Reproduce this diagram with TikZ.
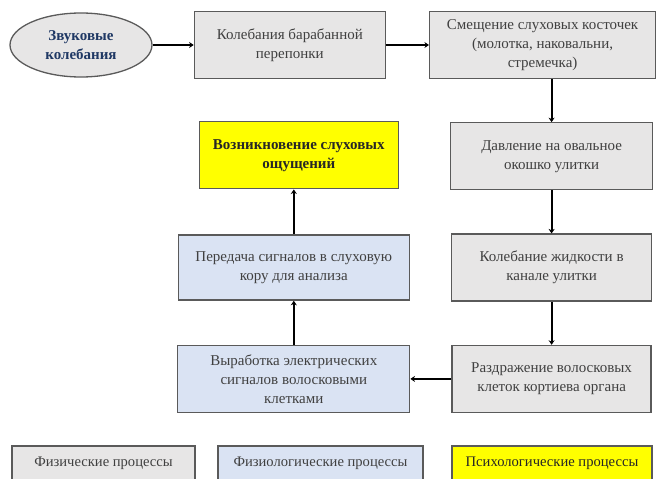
\documentclass[tikz,border=0pt]{standalone}
\usepackage{fontspec}
\setmainfont{Liberation Serif}
\usetikzlibrary{positioning,arrows.meta,shapes.geometric}
\definecolor{physfill}{HTML}{E7E6E6}
\definecolor{biofill}{HTML}{DAE3F3}
\definecolor{psyfill}{HTML}{FFFF00}
\definecolor{rim}{HTML}{5A5A5A}
\definecolor{inktxt}{HTML}{404040}
\definecolor{navy}{HTML}{1F3864}

\begin{document}
\begin{tikzpicture}[
  proc/.style={draw=rim, line width=1.3pt, minimum height=67pt, align=center, inner sep=3pt, font=\fontsize{15}{19}\selectfont},
  phys/.style={proc, fill=physfill, text=inktxt},
  bio/.style={proc, fill=biofill, text=inktxt},
  psy/.style={proc, fill=psyfill, text=black!85, font=\fontsize{15}{19}\selectfont\bfseries},
  legend/.style={draw=rim, line width=1.3pt, minimum height=34pt, font=\fontsize{14.6}{19}\selectfont},
  arr/.style={-{Stealth[length=4.5pt,width=6pt]}, line width=2.2pt}]
\useasboundingbox (0,0) rectangle (656pt,-479pt);
\clip (0,0) rectangle (656pt,-479pt);
\node[ellipse, draw=rim, line width=1.3pt, fill=physfill, minimum width=142pt, minimum height=64pt, text=navy, font=\fontsize{15}{19}\selectfont\bfseries, align=center] (snd) at (81pt,-45pt) {Звуковые\\колебания};
\node[phys, minimum width=191pt, right=41pt of snd] (drum) {Колебания барабанной\\перепонки};
\node[phys, minimum width=226pt, right=43pt of drum] (oss) {Смещение слуховых косточек\\(молотка, наковальни,\\стремечка)};
\node[phys, minimum width=202pt, below=43pt of oss, xshift=9pt] (oval) {Давление на овальное\\окошко улитки};
\node[phys, minimum width=200pt, below=43pt of oval] (fluid) {Колебание жидкости в\\канале улитки};
\node[phys, minimum width=199pt, below=43pt of fluid] (hair) {Раздражение волосковых\\клеток кортиева органа};
\node[bio, minimum width=232pt, left=41pt of hair] (elec) {Выработка электрических\\сигналов волосковыми\\клетками};
\node[bio, minimum width=231pt, minimum height=65pt, above=44pt of elec] (cortex) {Передача сигналов в слуховую\\кору для анализа};
\node[psy, minimum width=199pt, above=45pt of cortex, xshift=5pt] (sens) {Возникновение слуховых\\ощущений};
% legend
\node[legend, fill=physfill, text=inktxt, minimum width=183pt] (legphys) at (103.5pt,-463pt) {Физические процессы};
\node[legend, fill=biofill, text=inktxt, minimum width=205pt] (legbio) at (320.5pt,-463pt) {Физиологические процессы};
\node[legend, fill=psyfill, text=black!85, minimum width=200pt] (legpsy) at (552pt,-463pt) {Психологические процессы};
\draw[arr] (snd) -- (drum); \draw[arr] (drum) -- (oss);
\draw[arr] (oval.north |- oss.south) -- (oval.north);
\draw[arr] (oval) -- (fluid); \draw[arr] (fluid) -- (hair);
\draw[arr] (hair) -- (elec); \draw[arr] (elec) -- (cortex);
\draw[arr] (cortex.north) -- (cortex.north |- sens.south);
\end{tikzpicture}
\end{document}
